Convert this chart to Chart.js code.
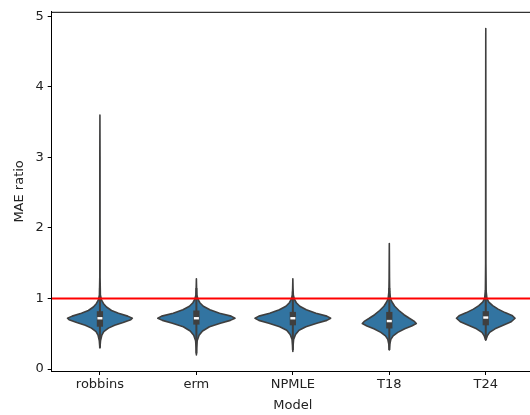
<!DOCTYPE html>
<html>
<head>
<meta charset="utf-8">
<script src="https://cdn.jsdelivr.net/npm/chart.js@4.4.1/dist/chart.umd.min.js"></script>
<style>
  html, body { margin: 0; padding: 0; background: #fff; overflow: hidden; }
  #wrap { width: 536px; height: 415px; }
</style>
</head>
<body>
<div id="wrap"><canvas id="chart" width="536" height="415"></canvas></div>
<script>
'use strict';

var models = ['robbins', 'erm', 'NPMLE', 'T18', 'T24'];
var yTicks = [0, 1, 2, 3, 4, 5];
var refLine = 1;

// density outlines: value along y, half width relative to the widest violin
var robbinsVals = [0.30, 0.40, 0.48, 0.53, 0.58, 0.62, 0.66, 0.70, 0.72, 0.75, 0.79, 0.83, 0.88, 0.93, 0.98, 1.05, 1.30, 2.00, 3.00, 3.60];
var robbinsDens = [0.00, 0.015, 0.05, 0.10, 0.22, 0.38, 0.60, 0.80, 0.84, 0.72, 0.48, 0.30, 0.17, 0.09, 0.04, 0.012, 0.004, 0.004, 0.003, 0.00];
var ermVals = [0.20, 0.30, 0.40, 0.48, 0.54, 0.60, 0.65, 0.69, 0.72, 0.75, 0.79, 0.84, 0.89, 0.94, 0.99, 1.05, 1.15, 1.28];
var ermDens = [0.00, 0.006, 0.02, 0.07, 0.16, 0.34, 0.62, 0.88, 1.00, 0.90, 0.60, 0.35, 0.18, 0.09, 0.04, 0.012, 0.005, 0.00];
var npmleVals = [0.25, 0.33, 0.42, 0.49, 0.55, 0.60, 0.65, 0.69, 0.72, 0.75, 0.79, 0.84, 0.89, 0.94, 0.99, 1.05, 1.15, 1.28];
var npmleDens = [0.00, 0.006, 0.02, 0.07, 0.16, 0.34, 0.62, 0.88, 0.98, 0.88, 0.60, 0.35, 0.18, 0.09, 0.04, 0.012, 0.005, 0.00];
var t18Vals = [0.27, 0.35, 0.42, 0.47, 0.52, 0.57, 0.61, 0.645, 0.68, 0.72, 0.77, 0.83, 0.89, 0.95, 1.00, 1.10, 1.30, 1.78];
var t18Dens = [0.00, 0.012, 0.04, 0.10, 0.22, 0.40, 0.58, 0.70, 0.64, 0.52, 0.38, 0.25, 0.14, 0.07, 0.03, 0.01, 0.005, 0.00];
var t24Vals = [0.41, 0.47, 0.52, 0.57, 0.62, 0.67, 0.72, 0.76, 0.80, 0.85, 0.90, 0.95, 1.00, 1.10, 1.50, 3.00, 4.83];
var t24Dens = [0.00, 0.04, 0.10, 0.24, 0.45, 0.66, 0.76, 0.68, 0.50, 0.32, 0.18, 0.08, 0.03, 0.01, 0.004, 0.003, 0.00];

var violinVals = [robbinsVals, ermVals, npmleVals, t18Vals, t24Vals];
var violinDens = [robbinsDens, ermDens, npmleDens, t18Dens, t24Dens];

// inner box statistics
var q1 = [0.60, 0.63, 0.62, 0.575, 0.62];
var medians = [0.72, 0.72, 0.72, 0.68, 0.73];
var q3 = [0.82, 0.83, 0.81, 0.81, 0.82];
var whiskerLo = [0.30, 0.22, 0.27, 0.27, 0.41];
var whiskerHi = [1.15, 1.15, 1.10, 1.15, 1.12];

var fillColor = '#3274a1';
var edgeColor = '#3f3f3f';

var violinPlugin = {
  id: 'violins',
  beforeDatasetsDraw: function (chart) {
    var ctx = chart.ctx;
    var x = chart.scales.x, y = chart.scales.y;
    var unit = x.getPixelForValue(1) - x.getPixelForValue(0);
    var area = chart.chartArea;
    ctx.save();
    ctx.beginPath();
    ctx.rect(area.left, area.top, area.right - area.left, area.bottom - area.top);
    ctx.clip();
    models.forEach(function (name, i) {
      var cx = x.getPixelForValue(i);
      var vals = violinVals[i], dens = violinDens[i];
      var k;
      ctx.beginPath();
      for (k = 0; k < vals.length; k++) {
        var px = cx + dens[k] * 0.4 * unit;
        if (k === 0) ctx.moveTo(px, y.getPixelForValue(vals[k]));
        else ctx.lineTo(px, y.getPixelForValue(vals[k]));
      }
      for (k = vals.length - 1; k >= 0; k--) {
        ctx.lineTo(cx - dens[k] * 0.4 * unit, y.getPixelForValue(vals[k]));
      }
      ctx.closePath();
      ctx.fillStyle = fillColor;
      ctx.fill();
      ctx.lineJoin = 'round';
      ctx.lineWidth = 1.6;
      ctx.strokeStyle = edgeColor;
      ctx.stroke();

      // whisker
      ctx.beginPath();
      ctx.moveTo(cx, y.getPixelForValue(whiskerLo[i]));
      ctx.lineTo(cx, y.getPixelForValue(whiskerHi[i]));
      ctx.lineWidth = 2;
      ctx.stroke();

      // box
      var bw = 0.065 * unit;
      var top = y.getPixelForValue(q3[i]), bot = y.getPixelForValue(q1[i]);
      ctx.fillStyle = edgeColor;
      ctx.fillRect(cx - bw / 2, top, bw, bot - top);

      // median
      var my = y.getPixelForValue(medians[i]);
      ctx.fillStyle = '#ffffff';
      ctx.fillRect(cx - 2.5, my - 1.2, 5, 2.4);
    });
    ctx.restore();
  },
  afterDraw: function (chart) {
    // top spine
    var ctx = chart.ctx, area = chart.chartArea;
    ctx.save();
    ctx.beginPath();
    ctx.moveTo(area.left, area.top + 0.5);
    ctx.lineTo(area.right, area.top + 0.5);
    ctx.lineWidth = 1;
    ctx.strokeStyle = '#000';
    ctx.stroke();
    ctx.restore();
  }
};

var font = { family: 'DejaVu Sans', size: 13 };
var textColor = '#222';

new Chart(document.getElementById('chart').getContext('2d'), {
  type: 'scatter',
  data: {
    datasets: [{
      data: [{ x: -0.5, y: refLine }, { x: 4.5, y: refLine }],
      showLine: true,
      borderColor: '#ff0000',
      borderWidth: 2,
      pointRadius: 0,
      fill: false
    }]
  },
  options: {
    responsive: false,
    animation: false,
    events: [],
    layout: { padding: { top: 11, right: 2, left: 0, bottom: 0 } },
    plugins: { legend: { display: false }, tooltip: { enabled: false } },
    scales: {
      x: {
        type: 'linear',
        min: -0.5,
        max: 4.5,
        afterBuildTicks: function (scale) {
          scale.ticks = models.map(function (m, i) { return { value: i }; });
        },
        afterFit: function (scale) { scale.height = 44; },
        ticks: {
          autoSkip: false,
          maxRotation: 0,
          padding: 2,
          font: font,
          color: textColor,
          callback: function (value) { return models[value]; }
        },
        grid: { display: true, drawOnChartArea: false, drawTicks: true, tickLength: 4, color: '#000', lineWidth: 1 },
        border: { display: true, color: '#000', width: 1 },
        title: { display: true, text: 'Model', font: font, color: textColor, padding: { top: 0, bottom: 2 } }
      },
      y: {
        min: -0.028,
        max: 5.066,
        afterBuildTicks: function (scale) {
          scale.ticks = yTicks.map(function (v) { return { value: v }; });
        },
        afterFit: function (scale) { scale.width = 51.7; },
        ticks: { padding: 4, font: font, color: textColor },
        grid: { display: true, drawOnChartArea: false, drawTicks: true, tickLength: 4, color: '#000', lineWidth: 1 },
        border: { display: true, color: '#000', width: 1 },
        title: { display: true, text: 'MAE ratio', font: font, color: textColor, padding: { top: 12, bottom: 0 } }
      }
    }
  },
  plugins: [violinPlugin]
});
</script>
</body>
</html>
